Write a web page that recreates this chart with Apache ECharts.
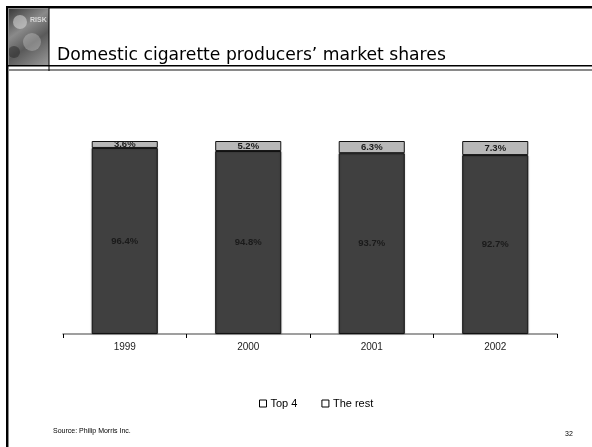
<!DOCTYPE html>
<html>
<head>
<meta charset="utf-8">
<script src="https://cdn.jsdelivr.net/npm/echarts@6/dist/echarts.min.js"></script>
<style>html,body{margin:0;padding:0;background:#fff;}#c{width:592px;height:447px;}</style>
</head>
<body>
<div id="c"></div>
<script>
var categories = ['1999', '2000', '2001', '2002'];
var top4 = [96.4, 94.8, 93.7, 92.7];
var theRest = [3.6, 5.2, 6.3, 7.3];
var seriesNames = ['Top 4', 'The rest'];

var chart = echarts.init(document.getElementById('c'));
var labelStyle = {
  show: true, position: 'inside', formatter: function (p) { return p.value.toFixed(1) + '%'; },
  fontFamily: 'Liberation Sans, Arial, sans-serif', fontSize: 9.5, fontWeight: 'bold', color: '#1a1a1a'
};
chart.setOption({
  animation: false,
  title: {
    text: 'Domestic cigarette producers\u2019 market shares',
    left: 52, top: 42,
    textStyle: { fontFamily: 'DejaVu Sans', fontSize: 17.2, fontWeight: 'normal', color: '#000' }
  },
  legend: {
    data: [
      { name: seriesNames[0], itemStyle: { color: '#fff', borderColor: '#000', borderWidth: 1 } },
      { name: seriesNames[1], itemStyle: { color: '#fff', borderColor: '#000', borderWidth: 1 } }
    ],
    left: 254, top: 393, itemWidth: 7, itemHeight: 7, itemGap: 24,
    icon: 'rect',
    textStyle: { fontFamily: 'Liberation Sans, Arial, sans-serif', fontSize: 11, color: '#000', padding: [0, 0, 0, -1] }
  },
  grid: { left: 63, right: 35, top: 141, bottom: 113 },
  xAxis: {
    type: 'category', data: categories,
    axisLine: { lineStyle: { color: '#808080', width: 1.5 } },
    axisTick: { show: true, length: 4, lineStyle: { color: '#000' } },
    axisLabel: { fontFamily: 'Liberation Sans, Arial, sans-serif', fontSize: 10, color: '#222', margin: 8 }
  },
  yAxis: { type: 'value', min: 0, max: 100, show: false, splitLine: { show: false } },
  series: [
    {
      name: seriesNames[0], type: 'bar', stack: 's', data: top4, barWidth: '53.5%',
      itemStyle: { color: '#404040', borderColor: '#111', borderWidth: 1, shadowColor: 'rgba(0,0,0,0.25)', shadowBlur: 2 },
      label: labelStyle
    },
    {
      name: seriesNames[1], type: 'bar', stack: 's', data: theRest, barWidth: '53.5%',
      itemStyle: { color: '#b8b8b8', borderColor: '#111', borderWidth: 1 },
      label: labelStyle
    }
  ],
  graphic: [
    // logo
    { type: 'rect', shape: { x: 9, y: 9, width: 40, height: 56 },
      style: { fill: new echarts.graphic.LinearGradient(0, 0, 1, 1, [
        { offset: 0, color: '#3a3a3a' }, { offset: 0.35, color: '#8a8a8a' },
        { offset: 0.6, color: '#5a5a5a' }, { offset: 1, color: '#9a9a9a' }]) } },
    { type: 'circle', shape: { cx: 20, cy: 22, r: 7 }, style: { fill: 'rgba(220,220,220,0.55)' } },
    { type: 'circle', shape: { cx: 32, cy: 42, r: 9 }, style: { fill: 'rgba(200,200,200,0.4)' } },
    { type: 'circle', shape: { cx: 14, cy: 52, r: 6 }, style: { fill: 'rgba(40,40,40,0.5)' } },
    { type: 'text', x: 30, y: 17, style: { text: 'RISK', fontSize: 7, fontWeight: 'bold', fill: '#d8d8d8', fontFamily: 'Liberation Sans' } },
    // frame
    { type: 'rect', shape: { x: 6, y: 6, width: 586, height: 2 }, style: { fill: '#000' } },
    { type: 'rect', shape: { x: 8, y: 8, width: 584, height: 1 }, style: { fill: '#8a8a8a' } },
    { type: 'rect', shape: { x: 6, y: 6, width: 2, height: 441 }, style: { fill: '#000' } },
    { type: 'rect', shape: { x: 8, y: 9, width: 1, height: 438 }, style: { fill: '#8a8a8a' } },
    { type: 'rect', shape: { x: 8, y: 65, width: 584, height: 1.5 }, style: { fill: '#000' } },
    { type: 'rect', shape: { x: 8, y: 69, width: 584, height: 2 }, style: { fill: '#8a8a8a' } },
    { type: 'rect', shape: { x: 48.5, y: 8, width: 1, height: 63 }, style: { fill: '#000' } },
    // footer
    { type: 'text', x: 53, y: 428, style: { text: 'Source: Philip Morris Inc.', fontSize: 7, fill: '#000', fontFamily: 'Liberation Sans, Arial, sans-serif' } },
    { type: 'text', x: 565, y: 431, style: { text: '32', fontSize: 7, fill: '#000', fontFamily: 'Liberation Sans, Arial, sans-serif' } }
  ]
});
</script>
</body>
</html>
